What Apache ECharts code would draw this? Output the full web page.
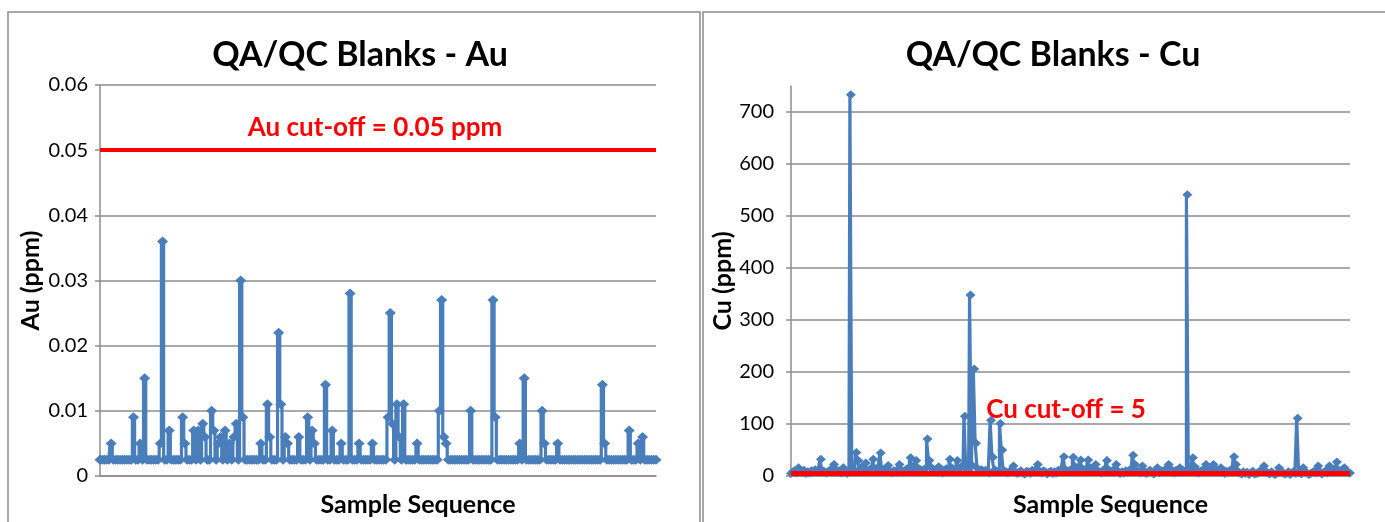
<!DOCTYPE html>
<html>
<head>
<meta charset="utf-8">
<script src="https://cdn.jsdelivr.net/npm/echarts@6/dist/echarts.min.js"></script>
<style>
html,body{margin:0;padding:0;background:#fff;overflow:hidden;}
#chart{width:1385px;height:522px;}
</style>
</head>
<body>
<div id="chart"></div>
<script>
// ---------- DATA ----------
const auTitle = 'QA/QC Blanks - Au';
const cuTitle = 'QA/QC Blanks - Cu';
const auAxisName = 'Au (ppm)';
const cuAxisName = 'Cu (ppm)';
const xAxisName = 'Sample Sequence';
const auCutoff = 0.05;
const cuCutoff = 5;
const auCutoffLabel = 'Au cut-off = 0.05 ppm';
const cuCutoffLabel = 'Cu cut-off = 5';
const auTicks = [0, 0.01, 0.02, 0.03, 0.04, 0.05, 0.06];
const cuTicks = [0, 100, 200, 300, 400, 500, 600, 700];

// Au blank results (ppm), in sample sequence
const auValues = [
0.0025,0.0025,0.0025,0.0025,0.0025,0.005,0.0025,0.0025,0.0025,0.0025,
0.0025,0.0025,0.0025,0.0025,0.0025,0.009,0.0025,0.0025,0.005,0.0025,
0.015,0.0025,0.0025,0.0025,0.0025,0.0025,0.0025,0.005,0.036,0.0025,
0.0025,0.007,0.0025,0.0025,0.0025,0.0025,0.0025,0.009,0.005,0.0025,
0.0025,0.0025,0.007,0.0025,0.007,0.0025,0.008,0.006,0.0025,0.0025,
0.010,0.007,0.0025,0.005,0.006,0.0025,0.007,0.0025,0.005,0.0025,
0.006,0.008,0.0025,0.030,0.009,0.0025,0.0025,0.0025,0.0025,0.0025,
0.0025,0.0025,0.005,0.0025,0.0025,0.011,0.006,0.0025,0.0025,0.0025,
0.022,0.011,0.0025,0.006,0.005,0.0025,0.0025,0.0025,0.0025,0.006,
0.0025,0.0025,0.0025,0.009,0.0025,0.007,0.005,0.0025,0.0025,0.0025,
0.0025,0.014,0.0025,0.0025,0.007,0.0025,0.0025,0.0025,0.005,0.0025,
0.0025,0.0025,0.028,0.0025,0.0025,0.0025,0.005,0.0025,0.0025,0.0025,
0.0025,0.0025,0.005,0.0025,0.0025,0.0025,0.0025,0.0025,0.0025,0.009,
0.025,0.008,0.0025,0.011,0.006,0.0025,0.011,0.0025,0.0025,0.0025,
0.0025,0.0025,0.005,0.0025,0.0025,0.0025,0.0025,0.0025,0.0025,0.0025,
0.0025,0.0025,0.010,0.027,0.006,0.005,0.0025,0.0025,0.0025,0.0025,
0.0025,0.0025,0.0025,0.0025,0.0025,0.0025,0.010,0.0025,0.0025,0.0025,
0.0025,0.0025,0.0025,0.0025,0.0025,0.0025,0.027,0.009,0.0025,0.0025,
0.0025,0.0025,0.0025,0.0025,0.0025,0.0025,0.0025,0.0025,0.005,0.0025,
0.015,0.0025,0.0025,0.0025,0.0025,0.0025,0.0025,0.0025,0.010,0.005,
0.0025,0.0025,0.0025,0.0025,0.0025,0.005,0.0025,0.0025,0.0025,0.0025,
0.0025,0.0025,0.0025,0.0025,0.0025,0.0025,0.0025,0.0025,0.0025,0.0025,
0.0025,0.0025,0.0025,0.0025,0.0025,0.014,0.005,0.0025,0.0025,0.0025,
0.0025,0.0025,0.0025,0.0025,0.0025,0.0025,0.0025,0.007,0.0025,0.0025,
0.0025,0.005,0.0025,0.006,0.0025,0.0025,0.0025,0.0025,0.0025,0.0025
];

// Cu blank results (ppm), in sample sequence
const cuValues = [
5,8,10,6,16,9,7,11,5,8,
6,10,9,12,7,11,32,10,8,6,
9,12,8,22,13,7,10,6,16,9,
5,8,733,12,9,45,30,14,18,11,
25,10,12,15,32,14,9,18,44,12,
11,14,20,9,6,10,8,12,22,11,
7,9,14,12,35,18,11,30,15,13,
9,12,15,71,30,17,12,10,8,18,
9,6,11,14,12,32,16,10,13,30,
14,18,20,115,12,10,348,20,206,63,
14,10,12,8,11,9,6,107,36,12,
9,7,101,50,10,8,6,9,12,19,
8,5,7,10,6,4,9,8,5,11,
7,12,22,9,6,10,8,4,7,9,
5,8,6,11,9,14,37,12,8,10,
13,36,18,11,15,31,14,10,12,31,
16,9,12,22,10,8,6,11,14,30,
12,7,10,13,22,9,5,8,6,10,
7,11,14,40,22,10,8,6,19,9,
5,8,11,7,4,9,16,6,10,8,
12,9,22,14,8,6,11,9,16,7,
10,8,541,14,12,35,18,10,6,9,
11,8,22,10,12,9,22,14,7,10,
16,8,5,9,7,11,14,37,22,9,
6,4,8,5,7,3,6,9,4,5,
7,10,8,19,9,6,4,8,5,3,
6,16,9,7,4,5,8,3,6,9,
5,111,7,4,16,8,6,3,5,7,
9,6,19,8,4,7,10,6,19,9,
12,14,27,11,8,13,16,10,7,6
];

// ---------- CHART ----------
const FONT = 'Lato, "Open Sans", "Liberation Sans", sans-serif';
const BLUE = '#4A7EBB';
const RED = '#FF0000';
const GRID = '#8C8C8C';

const chart = echarts.init(document.getElementById('chart'), null, {renderer: 'canvas'});

function yAxisBase(name, ticks, extra) {
  return Object.assign({
    type: 'value',
    min: ticks[0],
    interval: ticks[1] - ticks[0],
    name: name,
    nameLocation: 'middle',
    nameRotate: 90,
    nameTextStyle: {fontFamily: FONT, fontSize: 25, fontWeight: 'bold', color: '#000'},
    axisLine: {show: true, lineStyle: {color: GRID, width: 1.5}},
    axisTick: {show: true, length: 5, lineStyle: {color: GRID, width: 1.5}},
    splitLine: {show: true, lineStyle: {color: GRID, width: 1.5}}
  }, extra);
}

function xAxisBase(gridIndex, n) {
  return {
    type: 'value',
    gridIndex: gridIndex,
    min: 0,
    max: n - 1,
    name: xAxisName,
    nameLocation: 'middle',
    nameGap: 16,
    nameTextStyle: {fontFamily: FONT, fontSize: 25, fontWeight: 'bold', color: '#000',
      verticalAlign: 'top', padding: [0, 0, 0, 80]},
    axisLine: {show: true, onZero: false, lineStyle: {color: GRID, width: 1.5}},
    axisTick: {show: false},
    axisLabel: {show: false},
    splitLine: {show: false}
  };
}

const option = {
  animation: false,
  backgroundColor: '#fff',
  title: [
    {text: auTitle, left: 355, top: 33, textAlign: 'center',
     textStyle: {fontFamily: FONT, fontSize: 34, fontWeight: 'bold', color: '#000'}},
    {text: cuTitle, left: 1048, top: 33, textAlign: 'center',
     textStyle: {fontFamily: FONT, fontSize: 34, fontWeight: 'bold', color: '#000'}}
  ],
  grid: [
    {left: 100, top: 85, width: 556, height: 393, containLabel: false},
    {left: 791, top: 86, width: 559, height: 393, containLabel: false}
  ],
  xAxis: [xAxisBase(0, auValues.length), xAxisBase(1, cuValues.length)],
  yAxis: [
    yAxisBase(auAxisName, auTicks, {gridIndex: 0, max: auTicks[auTicks.length - 1], nameGap: 57,
      axisLabel: {fontFamily: FONT, fontSize: 20, color: '#000', margin: 12,
        formatter: v => (v === 0 ? '0' : v.toFixed(2))}}),
    yAxisBase(cuAxisName, cuTicks, {gridIndex: 1, max: 750, nameGap: 54,
      axisLabel: {fontFamily: FONT, fontSize: 20, color: '#000', margin: 17, showMaxLabel: false},
      splitLine: {show: true, showMaxLine: false, lineStyle: {color: GRID, width: 1.5}}})
  ],
  series: [
    {
      type: 'line', xAxisIndex: 0, yAxisIndex: 0,
      data: auValues.map((v, i) => [i, v]),
      step: 'middle',
      symbol: 'diamond', symbolSize: [11, 10], showAllSymbol: true,
      lineStyle: {color: BLUE, width: 3.2},
      itemStyle: {color: BLUE},
      z: 3,
      markLine: {
        silent: true, symbol: 'none',
        lineStyle: {color: RED, width: 4, type: 'solid'},
        label: {show: false},
        data: [{yAxis: auCutoff}]
      }
    },
    {
      type: 'line', xAxisIndex: 1, yAxisIndex: 1,
      data: cuValues.map((v, i) => [i, v]),
      step: 'middle',
      symbol: 'diamond', symbolSize: [10, 9], showAllSymbol: true,
      lineStyle: {color: BLUE, width: 3.2},
      itemStyle: {color: BLUE},
      z: 3,
      markLine: {
        silent: true, symbol: 'none', z: 5,
        lineStyle: {color: RED, width: 5, type: 'solid'},
        label: {show: false},
        data: [{yAxis: cuCutoff}]
      }
    }
  ],
  graphic: [
    {type: 'rect', shape: {x: 8, y: 12, width: 692, height: 530}, style: {fill: null, stroke: GRID, lineWidth: 1.5}, silent: true, z: -10},
    {type: 'rect', shape: {x: 703, y: 12, width: 700, height: 530}, style: {fill: null, stroke: GRID, lineWidth: 1.5}, silent: true, z: -10},
    {type: 'text', x: 375, y: 128, style: {text: auCutoffLabel, fill: RED, font: 'bold 26px ' + FONT, align: 'center', verticalAlign: 'middle'}, silent: true, z: 10},
    {type: 'text', x: 1066, y: 410, style: {text: cuCutoffLabel, fill: RED, font: 'bold 26px ' + FONT, align: 'center', verticalAlign: 'middle'}, silent: true, z: 10}
  ]
};
chart.setOption(option);
</script>
</body>
</html>
